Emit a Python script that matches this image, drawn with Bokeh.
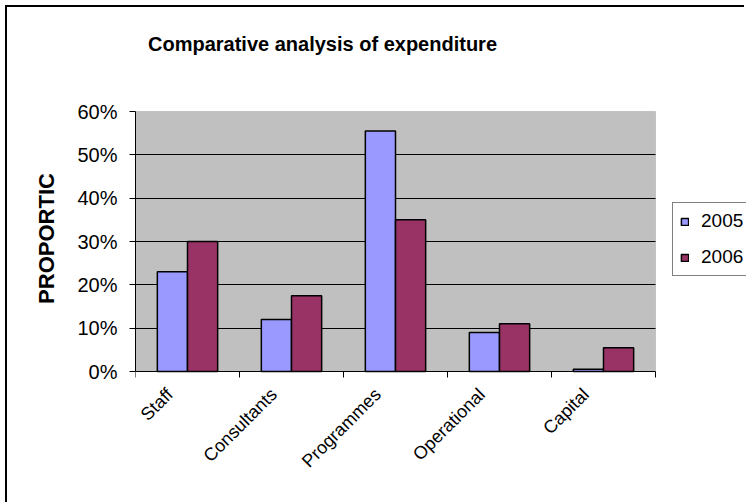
import math

from bokeh.embed import file_html
from bokeh.models import (BoxAnnotation, ColumnDataSource, FixedTicker, Label,
                          Legend, LegendItem, NumeralTickFormatter, Range1d)
from bokeh.plotting import figure
from bokeh.resources import INLINE
from bokeh.transform import dodge

# Expenditure shares by budget line (fractions of total)
categories = ["Staff", "Consultants", "Programmes", "Operational", "Capital"]
share_2005 = [0.23, 0.12, 0.555, 0.09, 0.005]
share_2006 = [0.30, 0.175, 0.35, 0.11, 0.055]
series = ["2005", "2006"]
y_ticks = [0.0, 0.1, 0.2, 0.3, 0.4, 0.5, 0.6]
y_max = 0.6

FONT = "Liberation Sans"
COLORS = ["#9999FF", "#993366"]

# Page geometry (pixels)
PAGE_W, PAGE_H = 746, 504
EDGE = 7                       # 5px gap + 2px chart border line
PLOT_L, PLOT_R = 135, 655      # grey plot area
PLOT_T, PLOT_B = 111, 371
TITLE_CX, TITLE_CY = 322, 43
LEGEND_L, LEGEND_B = 672, 276
YLABEL_CY = 238                # centre of the value-axis caption
FRAME_B = 2 * YLABEL_CY - EDGE # frame centred on the caption

n = len(categories)
x_per_px = n / (PLOT_R - PLOT_L)
y_per_px = y_max / (PLOT_B - PLOT_T)

source = ColumnDataSource(data=dict(
    x=[i + 0.5 for i in range(n)],
    cat=categories,
    y2005=share_2005,
    y2006=share_2006,
))

# The frame spans the whole chart area right of the value axis, so the
# title, the legend and the category labels lie inside it; the grey plot
# area is a box and the category axis is pinned at zero.
p = figure(width=PAGE_W - EDGE, height=PAGE_H - EDGE, title=None,
           output_backend="svg", toolbar_location=None,
           x_range=Range1d(0, n + (PAGE_W - PLOT_R) * x_per_px),
           y_range=Range1d(-(FRAME_B - PLOT_B) * y_per_px,
                           y_max + (PLOT_T - EDGE) * y_per_px),
           min_border_left=PLOT_L - EDGE, min_border_right=0,
           min_border_top=0, min_border_bottom=PAGE_H - FRAME_B)

# outer chart border: left and top edges
p.styles = {"margin-left": "5px", "margin-top": "5px",
            "border-left": "2px solid black", "border-top": "2px solid black"}

p.background_fill_color = "white"
p.border_fill_color = "white"
p.outline_line_color = None

p.add_layout(BoxAnnotation(left=0, right=n, bottom=0, top=y_max,
                           fill_color="#C0C0C0", fill_alpha=1.0,
                           line_color="#808080", line_width=1, level="image"))

bar_w = 0.29
r05 = p.vbar(x=dodge("x", -0.145, range=p.x_range), top="y2005", width=bar_w,
             source=source, fill_color=COLORS[0], line_color="black", line_width=1.5)
r06 = p.vbar(x=dodge("x", 0.145, range=p.x_range), top="y2006", width=bar_w,
             source=source, fill_color=COLORS[1], line_color="black", line_width=1.5)

# Title
p.add_layout(Label(x=(TITLE_CX - PLOT_L) * x_per_px,
                   y=y_max + (PLOT_T - TITLE_CY) * y_per_px,
                   text="Comparative analysis of expenditure",
                   text_font=FONT, text_font_size="20px", text_font_style="bold",
                   text_align="center", text_baseline="middle", text_color="black"))

# Y axis: percentages with outward ticks
p.yaxis.bounds = (0, y_max)
p.yaxis.ticker = FixedTicker(ticks=y_ticks)
p.yaxis.formatter = NumeralTickFormatter(format="0%")
p.yaxis.major_label_text_font = FONT
p.yaxis.major_label_text_font_size = "20px"
p.yaxis.major_label_text_color = "black"
p.yaxis.major_tick_in = 0
p.yaxis.major_tick_out = 6
p.yaxis.major_tick_line_color = "black"
p.yaxis.minor_tick_line_color = None
p.yaxis.axis_line_color = "black"
p.yaxis.major_label_standoff = 12
p.yaxis.axis_label = "PROPORTIC"
p.yaxis.axis_label_text_font = FONT
p.yaxis.axis_label_text_font_size = "22px"
p.yaxis.axis_label_text_font_style = "bold"
p.yaxis.axis_label_text_color = "black"
p.yaxis.axis_label_standoff = 15

# X axis: labels at category centres, tick marks at category boundaries
label_pos = [i + 0.5 - 0.17 for i in range(n)]
p.xaxis.fixed_location = 0
p.xaxis.bounds = (0, n)
p.xaxis.ticker = FixedTicker(ticks=label_pos, minor_ticks=list(range(n + 1)))
p.xaxis.major_label_overrides = {pos: c for pos, c in zip(label_pos, categories)}
p.xaxis.major_label_orientation = math.pi / 4
p.xaxis.major_label_text_font = FONT
p.xaxis.major_label_text_font_size = "18px"
p.xaxis.major_label_text_color = "black"
p.xaxis.major_tick_line_color = None
p.xaxis.minor_tick_in = 0
p.xaxis.minor_tick_out = 6
p.xaxis.minor_tick_line_color = "black"
p.xaxis.axis_line_color = "black"
p.xaxis.major_label_standoff = 14

p.xgrid.visible = False
p.ygrid.ticker = FixedTicker(ticks=[t for t in y_ticks if 0 < t < y_max])
p.ygrid.cross_bounds = (0, n)
p.ygrid.grid_line_color = "black"
p.ygrid.grid_line_width = 1

legend = Legend(items=[LegendItem(label=s, renderers=[r])
                       for s, r in zip(series, [r05, r06])],
                location=(LEGEND_L - PLOT_L, FRAME_B - LEGEND_B),
                orientation="vertical",
                border_line_color="black", border_line_width=1,
                background_fill_color="white", background_fill_alpha=1.0,
                label_text_font=FONT, label_text_font_size="19px",
                label_text_color="black",
                glyph_width=9, glyph_height=9, label_height=16, label_standoff=12,
                spacing=14, padding=7, margin=0)
p.add_layout(legend, "center")

open("out.html", "w").write(file_html(p, INLINE))
